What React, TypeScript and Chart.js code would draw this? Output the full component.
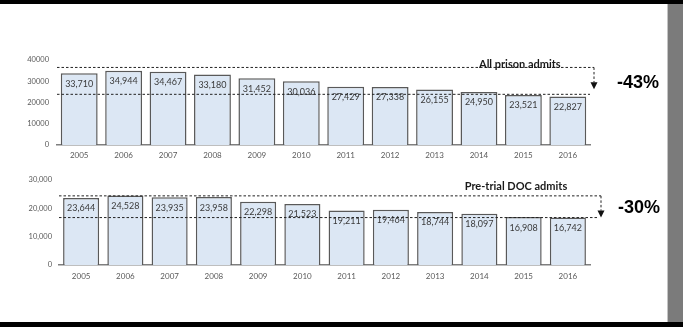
import React, { useEffect, useRef } from 'react';
import { Chart, registerables } from 'chart.js';

Chart.register(...registerables);

// ---- data ----
const years = ['2005', '2006', '2007', '2008', '2009', '2010', '2011', '2012', '2013', '2014', '2015', '2016'];
const allPrisonAdmits = [33710, 34944, 34467, 33180, 31452, 30036, 27429, 27338, 26155, 24950, 23521, 22827];
const pretrialAdmits = [23644, 24528, 23935, 23958, 22298, 21523, 19211, 19464, 18744, 18097, 16908, 16742];
const topTickMax = 40000;
const bottomTickMax = 30000;
const tickStep = 10000;
const topTitle = 'All prison admits';
const bottomTitle = 'Pre-trial DOC admits';
const topChange = '-43%';
const bottomChange = '-30%';
const topLevels = [36500, 23850];
const bottomLevels = [24400, 16742];

type Panel = {
  values: number[];
  max: number;
  commas: boolean;
  title: string;
  change: string;
  levels: number[];
  yWidth: number;
  xHeight: number;
  padTop: number;
  xPad: number;
  yPad: number;
  barPct: number;
  arrowDx: number;
  tipGap: number;
  titleX: number;
  titleAlign: CanvasTextAlign;
  titleDy: number;
  changeDx: number;
  changeDy: number;
};

const fmt = (v: number) => v.toLocaleString('en-US');

function PanelChart({ p, top }: { p: Panel; top: number }) {
  const ref = useRef<HTMLCanvasElement | null>(null);
  useEffect(() => {
    if (!ref.current) return;
    const annot = {
      id: 'annot',
      afterDatasetsDraw(chart: any) {
        const { ctx, chartArea } = chart;
        const y = chart.scales.y;
        const meta = chart.getDatasetMeta(0);
        ctx.save();
        // value labels
        ctx.fillStyle = '#3a3a3a';
        ctx.font = '9px Lato';
        ctx.textAlign = 'center';
        ctx.textBaseline = 'middle';
        meta.data.forEach((bar: any, i: number) => {
          ctx.fillText(fmt(p.values[i]), bar.x, bar.y + 10.5);
        });
        // dashed guides
        const yU = y.getPixelForValue(p.levels[0]);
        const yL = y.getPixelForValue(p.levels[1]);
        const ax = chartArea.right + p.arrowDx;
        const tip = yL - p.tipGap;
        ctx.strokeStyle = '#222';
        ctx.lineWidth = 1;
        ctx.setLineDash([2.5, 2]);
        ctx.beginPath();
        ctx.moveTo(chartArea.left, yU);
        ctx.lineTo(ax, yU);
        ctx.moveTo(chartArea.left, yL);
        ctx.lineTo(ax - 4, yL);
        ctx.moveTo(ax, yU);
        ctx.lineTo(ax, tip - 7);
        ctx.stroke();
        ctx.setLineDash([]);
        ctx.fillStyle = '#111';
        ctx.beginPath();
        ctx.moveTo(ax - 3.5, tip - 7);
        ctx.lineTo(ax + 3.5, tip - 7);
        ctx.lineTo(ax, tip);
        ctx.closePath();
        ctx.fill();
        // title
        ctx.fillStyle = '#1a1a1a';
        ctx.font = 'bold 11px Lato';
        ctx.textAlign = p.titleAlign;
        ctx.textBaseline = 'alphabetic';
        ctx.fillText(p.title, p.titleX, yU + p.titleDy);
        // change
        ctx.fillStyle = '#000';
        ctx.font = 'bold 18px "Liberation Sans", Arial, sans-serif';
        ctx.textAlign = 'left';
        ctx.textBaseline = 'middle';
        ctx.fillText(p.change, chartArea.right + p.changeDx, (yU + yL) / 2 + p.changeDy);
        ctx.restore();
      },
    };
    const chart = new Chart(ref.current, {
      type: 'bar',
      data: {
        labels: years,
        datasets: [
          {
            data: p.values,
            backgroundColor: '#dce7f4',
            borderColor: '#595959',
            borderWidth: 1.5,
            categoryPercentage: 1,
            barPercentage: p.barPct,
          },
        ],
      },
      options: {
        animation: false,
        responsive: false,
        maintainAspectRatio: false,
        layout: { padding: { top: p.padTop, right: 77, left: 0, bottom: 0 } },
        plugins: { legend: { display: false }, tooltip: { enabled: false } },
        scales: {
          x: {
            grid: { display: false, drawTicks: false },
            border: { display: true, color: '#7f7f7f', width: 1.5 },
            ticks: { color: '#595959', font: { size: 8, family: 'Lato' }, padding: p.xPad, maxRotation: 0 },
            afterFit: (s: any) => {
              s.height = p.xHeight;
            },
          },
          y: {
            min: 0,
            max: p.max,
            grid: { display: false, drawTicks: false },
            border: { display: false },
            ticks: {
              stepSize: tickStep,
              color: '#595959',
              font: { size: 7.5, family: 'Lato' },
              padding: p.yPad,
              callback: (v: any) => (p.commas ? fmt(Number(v)) : String(v)),
            },
            afterFit: (s: any) => {
              s.width = p.yWidth;
            },
          },
        },
      },
      plugins: [annot],
    });
    return () => chart.destroy();
  }, [p]);
  return (
    <canvas
      ref={ref}
      width={667}
      height={130}
      style={{ position: 'absolute', left: 0, top, width: 667, height: 130 }}
    />
  );
}

const topPanel: Panel = {
  values: allPrisonAdmits,
  max: topTickMax,
  commas: false,
  title: topTitle,
  change: topChange,
  levels: topLevels,
  yWidth: 57,
  xHeight: 25,
  padTop: 20,
  xPad: 6,
  yPad: 8,
  barPct: 0.83,
  arrowDx: 4,
  tipGap: 5,
  titleX: 479,
  titleAlign: 'left',
  titleDy: 0.5,
  changeDx: 27,
  changeDy: 2.5,
};

const bottomPanel: Panel = {
  values: pretrialAdmits,
  max: bottomTickMax,
  commas: true,
  title: bottomTitle,
  change: bottomChange,
  levels: bottomLevels,
  yWidth: 59,
  xHeight: 30,
  padTop: 15,
  xPad: 7,
  yPad: 7,
  barPct: 0.815,
  arrowDx: 11,
  tipGap: 0,
  titleX: 516,
  titleAlign: 'center',
  titleDy: -6,
  changeDx: 28,
  changeDy: 1.5,
};

export default function App() {
  return (
    <div
      style={{
        position: 'absolute',
        left: 0,
        top: 0,
        width: 683,
        height: 327,
        background: '#fff',
        overflow: 'hidden',
      }}
    >
      <div style={{ position: 'absolute', left: 0, top: 0, width: 683, height: 4, background: '#000' }} />
      <div style={{ position: 'absolute', left: 0, top: 322, width: 683, height: 5, background: '#000' }} />
      <div style={{ position: 'absolute', left: 667, top: 4, width: 1, height: 318, background: '#c4c4c4' }} />
      <div style={{ position: 'absolute', left: 668, top: 4, width: 15, height: 318, background: '#7b7b7b' }} />
      <PanelChart p={topPanel} top={40} />
      <PanelChart p={bottomPanel} top={165} />
    </div>
  );
}
